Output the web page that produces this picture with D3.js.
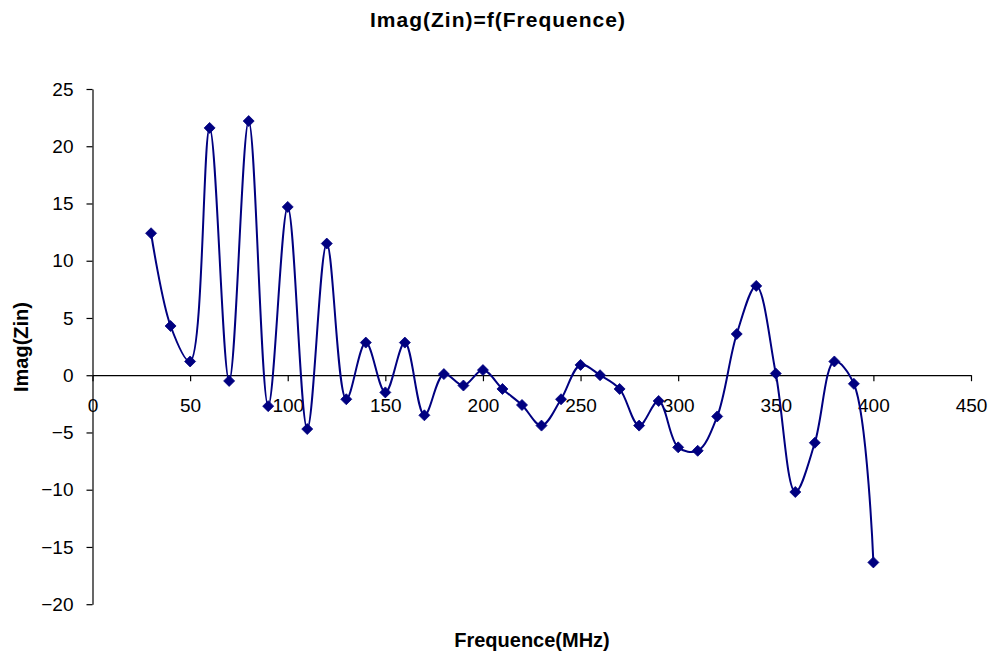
<!DOCTYPE html>
<html>
<head>
<meta charset="utf-8">
<script src="https://cdn.jsdelivr.net/npm/d3@7"></script>
<style>
  html, body { margin: 0; padding: 0; background: #fff; }
  svg { display: block; font-family: "Liberation Sans", Arial, sans-serif; }
</style>
</head>
<body>
<svg id="chart" width="993" height="652"></svg>
<script>
// Frequency (MHz) and imaginary part of the input impedance
const freq = [30, 40, 50, 60, 70, 80, 90, 100, 110, 120, 130, 140, 150, 160, 170, 180, 190, 200,
              210, 220, 230, 240, 250, 260, 270, 280, 290, 300, 310, 320, 330, 340, 350, 360,
              370, 380, 390, 400];
const imagZin = [12.4, 4.3, 1.2, 21.6, -0.5, 22.2, -2.7, 14.7, -4.7, 11.5, -2.1, 2.85, -1.5, 2.85,
                 -3.5, 0.1, -0.9, 0.45, -1.2, -2.6, -4.4, -2.1, 0.9, 0.0, -1.2, -4.4, -2.25, -6.3,
                 -6.6, -3.6, 3.6, 7.8, 0.15, -10.2, -5.9, 1.2, -0.75, -16.35];
const xTicks = [0, 50, 100, 150, 200, 250, 300, 350, 400, 450];
const yTicks = [-20, -15, -10, -5, 0, 5, 10, 15, 20, 25];

const points = freq.map((f, i) => ({ f, v: imagZin[i] }));

const svg = d3.select("#chart");
const plot = { left: 92.5, right: 971, top: 89, bottom: 604.2 };

const x = d3.scaleLinear().domain([0, 450]).range([plot.left, plot.right]);
const y = d3.scaleLinear().domain([-20, 25]).range([plot.bottom, plot.top]);

const navy = "#000080";

// Title
svg.append("text")
  .attr("x", 498).attr("y", 27)
  .attr("text-anchor", "middle")
  .attr("font-size", 21).attr("font-weight", "bold")
  .attr("letter-spacing", 1)
  .text("Imag(Zin)=f(Frequence)");

// Y axis
const yAxis = svg.append("g")
  .attr("transform", `translate(${plot.left},0)`)
  .call(d3.axisLeft(y).tickValues(yTicks).tickSize(6).tickPadding(13).tickSizeOuter(0));
yAxis.selectAll("text").attr("font-size", 19).attr("font-family", "Liberation Sans, Arial, sans-serif").attr("fill", "#000");

// X axis drawn through y = 0
const xAxis = svg.append("g")
  .attr("transform", `translate(0,${y(0)})`)
  .call(d3.axisBottom(x).tickValues(xTicks).tickSize(6).tickPadding(17).tickSizeOuter(0));
xAxis.selectAll("text").attr("font-size", 19).attr("font-family", "Liberation Sans, Arial, sans-serif").attr("fill", "#000");

svg.selectAll(".domain, .tick line").attr("stroke", "#000").attr("stroke-width", 1.2);

// Smoothed series line
const line = d3.line()
  .x(d => x(d.f))
  .y(d => y(d.v))
  .curve(d3.curveCatmullRom.alpha(0.5));

svg.append("path")
  .datum(points)
  .attr("fill", "none")
  .attr("stroke", navy)
  .attr("stroke-width", 2)
  .attr("d", line);

// Diamond markers
svg.append("g").selectAll("path")
  .data(points)
  .join("path")
  .attr("transform", d => `translate(${x(d.f)},${y(d.v)})`)
  .attr("d", "M0,-5.5L5.5,0L0,5.5L-5.5,0Z")
  .attr("fill", navy)
  .attr("stroke", navy)
  .attr("stroke-width", 0.8);

// Axis titles
svg.append("text")
  .attr("x", 532).attr("y", 647)
  .attr("text-anchor", "middle")
  .attr("font-size", 20).attr("font-weight", "bold")
  .text("Frequence(MHz)");

svg.append("text")
  .attr("transform", "translate(28,347) rotate(-90)")
  .attr("text-anchor", "middle")
  .attr("font-size", 20).attr("font-weight", "bold")
  .text("Imag(Zin)");
</script>
</body>
</html>
